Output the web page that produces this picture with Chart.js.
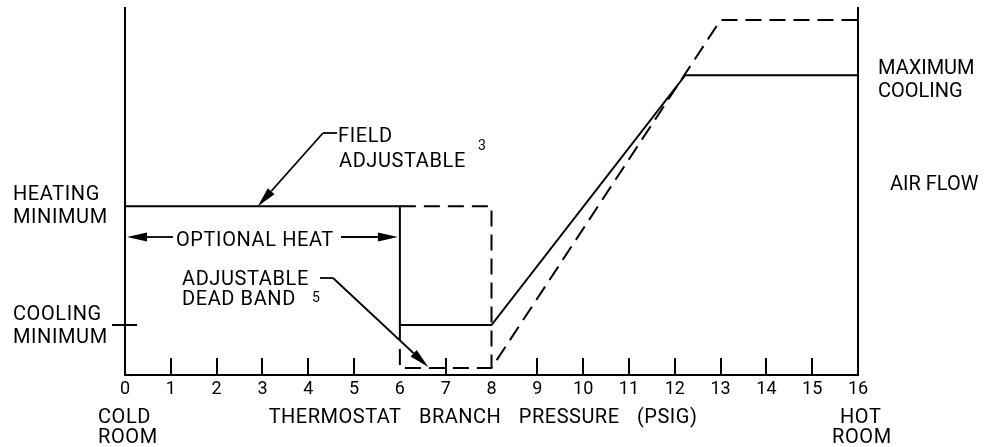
<!DOCTYPE html>
<html>
<head>
<meta charset="utf-8">
<script src="https://cdn.jsdelivr.net/npm/chart.js@4.4.0/dist/chart.umd.min.js"></script>
<style>
  html, body { margin: 0; padding: 0; background: #fff; }
  #contenedor { width: 984px; height: 447px; }
</style>
</head>
<body>
<div id="contenedor"><canvas id="graficoTermostato"></canvas></div>
<script>
// presion de rama del termostato (psig) -> flujo de aire (escala relativa 0-100)
const presionTicks = [0, 1, 2, 3, 4, 5, 6, 7, 8, 9, 10, 11, 12, 13, 14, 15, 16];

// linea continua
const continuaX = [0, 6, 6, 8, 12.23, 16];
const continuaY = [46, 46, 13.6, 13.6, 81.7, 81.7];

// linea discontinua (banda muerta y subida)
const discSubidaX = [6, 6, 8, 13, 16];
const discSubidaY = [13.6, 1.9, 1.9, 96.7, 96.7];

// linea discontinua (calor opcional)
const discCajaX = [6, 8, 8];
const discCajaY = [46, 46, 1.9];

const minimoCalefaccion = 46;
const minimoEnfriamiento = 13.6;

function puntos(xs, ys) {
  return xs.map(function (x, i) { return { x: x, y: ys[i] }; });
}

Chart.defaults.font.family = 'Roboto';
Chart.defaults.color = '#000';

// marcas, flechas y textos del dibujo
const anotaciones = {
  id: 'anotaciones',
  afterDraw: function (chart) {
    const ctx = chart.ctx;
    const sx = chart.scales.x;
    const sy = chart.scales.y;
    const area = chart.chartArea;

    ctx.save();
    ctx.strokeStyle = '#000';
    ctx.fillStyle = '#000';
    ctx.lineWidth = 2;

    // marcas del eje x hacia dentro
    presionTicks.forEach(function (v) {
      if (v === 0 || v === 6 || v === 8 || v === 16) return;
      const px = Math.round(sx.getPixelForValue(v));
      ctx.beginPath();
      ctx.moveTo(px, area.bottom);
      ctx.lineTo(px, area.bottom - 17);
      ctx.stroke();
    });

    // marca de minimo de enfriamiento
    const yc = Math.round(sy.getPixelForValue(minimoEnfriamiento));
    ctx.beginPath();
    ctx.moveTo(area.left - 13, yc);
    ctx.lineTo(area.left + 12, yc);
    ctx.stroke();

    function flecha(x1, y1, x2, y2) {
      const ang = Math.atan2(y2 - y1, x2 - x1);
      const largo = 20, ancho = 4.5;
      const bx = x2 - largo * Math.cos(ang);
      const by = y2 - largo * Math.sin(ang);
      ctx.lineWidth = 1.8;
      ctx.beginPath();
      ctx.moveTo(x1, y1);
      ctx.lineTo(bx, by);
      ctx.stroke();
      ctx.beginPath();
      ctx.moveTo(x2, y2);
      ctx.lineTo(bx + ancho * Math.sin(ang), by - ancho * Math.cos(ang));
      ctx.lineTo(bx - ancho * Math.sin(ang), by + ancho * Math.cos(ang));
      ctx.closePath();
      ctx.fill();
    }

    // FIELD ADJUSTABLE
    ctx.lineWidth = 1.8;
    ctx.beginPath();
    ctx.moveTo(337, 133);
    ctx.lineTo(323, 133);
    ctx.stroke();
    flecha(323, 133, sx.getPixelForValue(2.9), sy.getPixelForValue(minimoCalefaccion));

    // OPTIONAL HEAT
    const yo = sy.getPixelForValue(37.6);
    flecha(173, yo, sx.getPixelForValue(0) + 2, yo);
    flecha(341, yo, sx.getPixelForValue(6) - 2, yo);

    // ADJUSTABLE DEAD BAND
    ctx.lineWidth = 1.8;
    ctx.beginPath();
    ctx.moveTo(320, 278);
    ctx.lineTo(333, 278);
    ctx.stroke();
    flecha(333, 278, sx.getPixelForValue(6.62), sy.getPixelForValue(2.2));

    // textos
    ctx.textBaseline = 'alphabetic';
    ctx.textAlign = 'left';
    ctx.font = '20px Roboto';
    ctx.letterSpacing = '0.6px';
    ctx.fillText('HEATING', 13, 200);
    ctx.fillText('MINIMUM', 13, 223);
    ctx.fillText('COOLING', 13, 320);
    ctx.fillText('MINIMUM', 13, 343);
    ctx.fillText('FIELD', 338, 142);
    ctx.fillText('ADJUSTABLE', 339, 167);
    ctx.fillText('OPTIONAL HEAT', 176, 246);
    ctx.fillText('ADJUSTABLE', 182, 285);
    ctx.fillText('DEAD BAND', 182, 305);
    ctx.fillText('COLD', 98, 423);
    ctx.fillText('ROOM', 98, 443);
    ctx.fillText('HOT', 840, 423);
    ctx.fillText('ROOM', 832, 443);
    ctx.letterSpacing = '0px';
    ctx.fillText('MAXIMUM', 878, 74);
    ctx.fillText('COOLING', 878, 97);
    ctx.fillText('AIR FLOW', 890, 190);
    ctx.textAlign = 'center';
    ctx.letterSpacing = '0.5px';
    ctx.wordSpacing = '12px';
    ctx.fillText('THERMOSTAT BRANCH PRESSURE (PSIG)', 483, 423);
    ctx.wordSpacing = '0px';
    ctx.letterSpacing = '0px';
    ctx.textAlign = 'left';
    ctx.font = '14px Roboto';
    ctx.fillText('3', 478, 150);
    ctx.fillText('5', 312, 302);

    ctx.restore();
  }
};

const estiloEje = {
  type: 'linear',
  min: 0,
  max: 100,
  ticks: { display: false },
  grid: { display: false, drawTicks: false },
  border: { display: true, color: '#000', width: 2 },
  afterFit: function (scale) { scale.width = 0; }
};

new Chart(document.getElementById('graficoTermostato'), {
  type: 'line',
  data: {
    datasets: [
      {
        label: 'continua',
        data: puntos(continuaX, continuaY),
        borderColor: '#000',
        borderWidth: 2,
        pointRadius: 0,
        tension: 0,
        fill: false
      },
      {
        label: 'discontinua subida',
        data: puntos(discSubidaX, discSubidaY),
        borderColor: '#000',
        borderWidth: 2,
        borderDash: [16, 8],
        pointRadius: 0,
        tension: 0,
        fill: false
      },
      {
        label: 'discontinua caja',
        data: puntos(discCajaX, discCajaY),
        borderColor: '#000',
        borderWidth: 2,
        borderDash: [16, 8],
        pointRadius: 0,
        tension: 0,
        fill: false
      }
    ]
  },
  options: {
    responsive: true,
    maintainAspectRatio: false,
    animation: false,
    layout: { padding: { left: 125, right: 126, top: 8, bottom: 0 } },
    plugins: { legend: { display: false }, tooltip: { enabled: false } },
    scales: {
      x: {
        type: 'linear',
        min: 0,
        max: 16,
        afterBuildTicks: function (scale) {
          scale.ticks = presionTicks.map(function (v) { return { value: v }; });
        },
        ticks: { font: { size: 18 }, color: '#000', padding: 4, maxRotation: 0, autoSkip: false },
        grid: { display: false, drawTicks: false },
        border: { display: true, color: '#000', width: 2 },
        afterFit: function (scale) { scale.height = 72; }
      },
      y: Object.assign({ position: 'left' }, estiloEje),
      yr: Object.assign({ position: 'right' }, estiloEje)
    }
  },
  plugins: [anotaciones]
});
</script>
</body>
</html>
